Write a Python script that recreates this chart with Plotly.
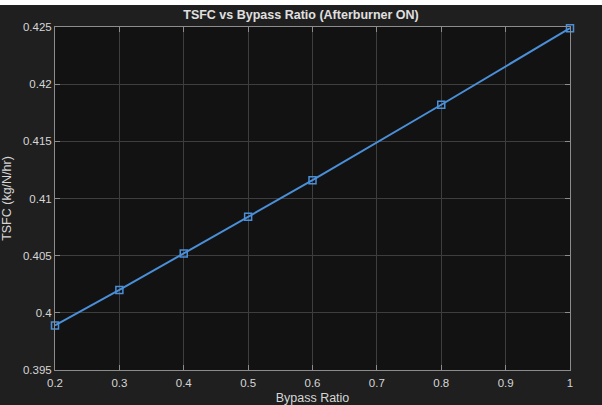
import plotly.graph_objects as go

# Turbofan TSFC as a function of bypass ratio, afterburner engaged
bypass_ratio = [0.2, 0.3, 0.4, 0.5, 0.6, 0.8, 1.0]
tsfc = [0.3989, 0.4020, 0.4052, 0.4084, 0.4116, 0.4182, 0.4249]

x_ticks = [0.2, 0.3, 0.4, 0.5, 0.6, 0.7, 0.8, 0.9, 1.0]
x_tick_text = ["0.2", "0.3", "0.4", "0.5", "0.6", "0.7", "0.8", "0.9", "1"]
y_ticks = [0.395, 0.400, 0.405, 0.410, 0.415, 0.420, 0.425]
y_tick_text = ["0.395", "0.4", "0.405", "0.41", "0.415", "0.42", "0.425"]

W, H = 602, 405
ML, MR, MT, MB = 55, 32, 27, 35
FONT = "Liberation Sans, Arial, Helvetica, sans-serif"
LINE = "#4a8fd8"

fig = go.Figure()
fig.add_trace(go.Scatter(
    x=bypass_ratio, y=tsfc, mode="lines+markers",
    line=dict(color=LINE, width=2),
    marker=dict(symbol="square-open", size=7, color=LINE, line=dict(width=1.5)),
    cliponaxis=False,
    showlegend=False,
))

axis_common = dict(
    automargin=False,
    showgrid=True, gridcolor="#3e3e3e", gridwidth=1,
    showline=True, linecolor="#8c8c8c", linewidth=1, mirror="ticks",
    ticks="inside", ticklen=5, tickcolor="#8c8c8c",
    zeroline=False,
    tickfont=dict(family=FONT, size=11.5, color="#d6d6d6"),
)

fig.update_xaxes(
    range=[0.2, 1.0], tickvals=x_ticks, ticktext=x_tick_text,
    ticklabelstandoff=2,
    title=dict(text="Bypass Ratio", font=dict(family=FONT, size=12.5, color="#d6d6d6"), standoff=10),
    **axis_common,
)
fig.update_yaxes(
    range=[0.395, 0.425], tickvals=y_ticks, ticktext=y_tick_text,
    title=dict(text="TSFC (kg/N/hr)", font=dict(family=FONT, size=12.5, color="#d6d6d6"), standoff=8),
    **axis_common,
)

# frame: light strip along the top edge of the page
pw, ph = W - ML - MR, H - MT - MB
def px_x(p):
    return (p - ML) / pw
def px_y(p):
    return 1 - (p - MT) / ph

fig.add_shape(type="rect", xref="paper", yref="paper", layer="above",
              x0=px_x(0), x1=px_x(W), y0=px_y(5), y1=px_y(0),
              fillcolor="#ffffff", line=dict(width=0))

fig.update_layout(
    width=W, height=H,
    margin=dict(l=ML, r=MR, t=MT, b=MB, autoexpand=False),
    paper_bgcolor="#1f1f1f", plot_bgcolor="#121212",
    title=dict(text="<b>TSFC vs Bypass Ratio (Afterburner ON)</b>",
               x=0.5, xanchor="center", y=1 - 15 / H, yanchor="middle",
               font=dict(family=FONT, size=12.5, color="#e0e0e0")),
)

fig.write_html("out.html")
